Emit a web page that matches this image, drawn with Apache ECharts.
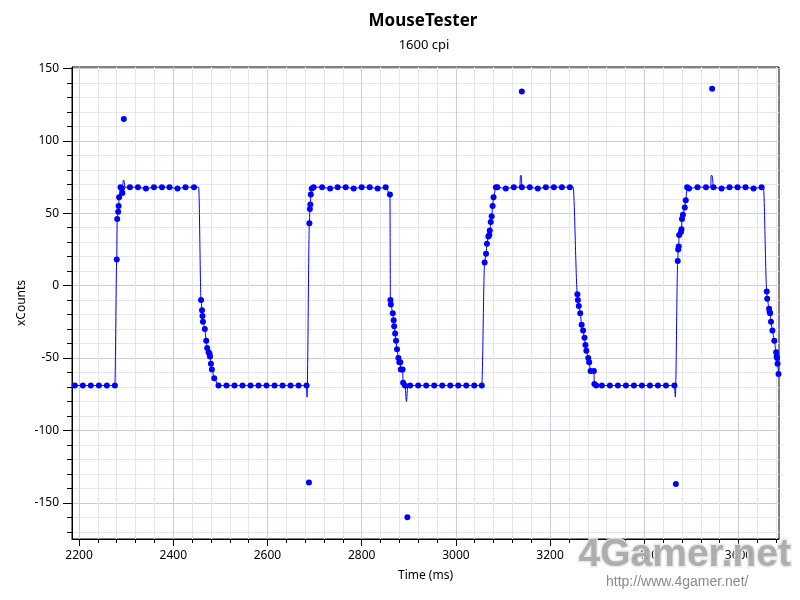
<!DOCTYPE html>
<html>
<head>
<meta charset="utf-8">
<script src="https://cdn.jsdelivr.net/npm/echarts@6/dist/echarts.min.js"></script>
<style>html,body{margin:0;padding:0;background:#fff}#c{width:800px;height:600px}</style>
</head>
<body>
<div id="c"></div>
<script>
// ---- sampled mouse reports (time in ms, xCounts) ----
const sampleTimes = [
  2191,2208,2225,2242,2259,2276,
  2280,2281,2283,2284,2285,2288,2291,2292,
  2308,2325,2342,2359,2376,2392,2409,2426,2444,
  2459,2461,2462,2463,2467,2470,2472,2475,2477,2478,2480,2482,2487,2496,
  2513,2530,2547,2564,2581,2598,2615,2632,2649,2666,2683,
  2689,2690,2691,2692,2694,2698,
  2716,2733,2749,2766,2783,2800,2817,2834,2851,
  2860,2861,2862,2866,2868,2869,2871,2873,2875,2878,2880,2882,2883,2887,2888,2892,
  2903,2920,2937,2954,2971,2988,3005,3022,3039,3055,
  3061,3064,3066,3069,3071,3072,3074,3076,3078,3080,3085,3088,
  3106,3123,3140,3157,3174,3191,3208,3225,3242,
  3258,3259,3261,3264,3267,3270,3273,3275,3277,3281,3283,3286,3293,3294,3298,
  3310,3327,3344,3361,3378,3395,3412,3429,3446,3464,
  3471,3472,3473,3474,3478,3479,3480,3482,3486,3488,3491,3495,
  3513,3531,3547,3564,3581,3598,3615,3632,3649,
  3660,3661,3665,3666,3667,3669,3672,3676,3680,3681,3682,3683,3685
];
const sampleCounts = [
  -69,-69,-69,-69,-69,-69,
  18,46,51,55,61,68,67,64,
  68,68,67,68,68,68,67,68,68,
  -10,-17,-21,-25,-30,-38,-43,-46,-47,-49,-54,-58,-64,-69,
  -69,-69,-69,-69,-69,-69,-69,-69,-69,-69,-69,
  43,53,56,63,67,68,
  68,67,68,68,67,68,68,67,68,
  63,-10,-13,-19,-24,-28,-33,-38,-44,-50,-53,-53,-58,-58,-67,-69,
  -69,-69,-69,-69,-69,-69,-69,-69,-69,-69,
  16,22,29,34,35,38,44,48,55,61,68,68,
  67,68,68,68,67,68,68,68,68,
  -6,-10,-14,-19,-27,-31,-36,-41,-45,-50,-53,-59,-59,-68,-69,
  -69,-69,-69,-69,-69,-69,-69,-69,-69,-69,
  17,25,27,35,37,39,46,49,54,59,68,67,
  68,68,68,67,68,68,68,67,68,
  -4,-9,-16,-18,-19,-25,-31,-38,-46,-49,-50,-54,-61
];
// ---- outlier reports (drawn as dots, not joined by the curve) ----
const outlierTimes  = [2295, 2688, 2897, 3140, 3467, 3544];
const outlierCounts = [115, -136, -160, 134, -137, 136];
// ---- extra points where the fitted curve bends / overshoots ----
const curveTimes  = [2293, 2294, 2296, 2297, 2454, 2684, 2895, 2898, 3136, 3137, 3139, 3249, 3466, 3541, 3542, 3544, 3653];
const curveCounts = [70, 73, 72, 68, 68, -77, -80, -69, 68, 76, 76, 68, -77, 68, 76, 76, 68];
// ---- axis ticks ----
const xMajorTicks = [2200, 2400, 2600, 2800, 3000, 3200, 3400, 3600];
const yMajorTicks = [-150, -100, -50, 0, 50, 100, 150];
const xMinorStep = 40, yMinorStep = 10;
const xRange = [2185, 3686], yRange = [-175, 151];

const xMinorTicks = [], yMinorTicks = [];
for (let v = Math.ceil(xRange[0] / xMinorStep) * xMinorStep; v <= xRange[1]; v += xMinorStep) xMinorTicks.push(v);
for (let v = Math.ceil(yRange[0] / yMinorStep) * yMinorStep; v <= yRange[1]; v += yMinorStep) yMinorTicks.push(v);

const samples = sampleTimes.map((t, i) => [t, sampleCounts[i]]);
const outliers = outlierTimes.map((t, i) => [t, outlierCounts[i]]);
const curve = samples.concat(curveTimes.map((t, i) => [t, curveCounts[i]]))
  .map((p, i) => [p[0], p[1], i])
  .sort((a, b) => a[0] - b[0] || a[2] - b[2])
  .map(p => [p[0], p[1]]);

const FONT = '"Noto Sans", "Open Sans", sans-serif';
const BLUE = '#0000ff';
const MINOR_GRID = '#e6e6f3';
const MAJOR_GRID = '#cacae6';
const plain = v => String(v);

const chart = echarts.init(document.getElementById('c'), null, { renderer: 'canvas' });
chart.setOption({
  animation: false,
  backgroundColor: '#fff',
  title: [
    { text: 'MouseTester', left: 418, top: 8, textAlign: 'center',
      textStyle: { fontFamily: FONT, fontSize: 17, fontWeight: 'bold', color: '#000' } },
    { text: '1600 cpi', left: 419, top: 34, textAlign: 'center',
      textStyle: { fontFamily: FONT, fontSize: 13, fontWeight: 'normal', color: '#000' } }
  ],
  grid: { left: 72, right: 21, top: 67, bottom: 61, show: true, borderColor: '#000', borderWidth: 1, backgroundColor: 'transparent' },
  xAxis: [
    { type: 'value', min: xRange[0], max: xRange[1], position: 'bottom',
      axisLine: { show: true, onZero: false, lineStyle: { color: '#000', width: 1 } },
      axisTick: { show: true, customValues: xMinorTicks, length: 4, lineStyle: { color: '#000' } },
      axisLabel: { show: false },
      splitLine: { show: true, lineStyle: { color: MINOR_GRID, width: 1 } } },
    { type: 'value', min: xRange[0], max: xRange[1], position: 'bottom',
      axisLine: { show: false, onZero: false },
      axisTick: { show: true, customValues: xMajorTicks, length: 7, lineStyle: { color: '#000' } },
      axisLabel: { show: true, customValues: xMajorTicks, formatter: plain, margin: 11, fontFamily: FONT, fontSize: 12, color: '#000' },
      splitLine: { show: true, lineStyle: { color: MAJOR_GRID, width: 1 } },
      name: 'Time (ms)', nameLocation: 'middle', nameGap: 31, nameMoveOverlap: false,
      nameTextStyle: { fontFamily: FONT, fontSize: 12, color: '#000' } }
  ],
  yAxis: [
    { type: 'value', min: yRange[0], max: yRange[1], position: 'left',
      axisLine: { show: true, onZero: false, lineStyle: { color: '#000', width: 1 } },
      axisTick: { show: true, customValues: yMinorTicks, length: 5, lineStyle: { color: '#000' } },
      axisLabel: { show: false },
      splitLine: { show: true, lineStyle: { color: MINOR_GRID, width: 1 } } },
    { type: 'value', min: yRange[0], max: yRange[1], position: 'left',
      axisLine: { show: false, onZero: false },
      axisTick: { show: true, customValues: yMajorTicks, length: 9, lineStyle: { color: '#000' } },
      axisLabel: { show: true, customValues: yMajorTicks, formatter: plain, margin: 13, fontFamily: FONT, fontSize: 12, color: '#000' },
      splitLine: { show: true, lineStyle: { color: MAJOR_GRID, width: 1 } },
      name: 'xCounts', nameLocation: 'middle', nameGap: 44, nameRotate: 90, nameMoveOverlap: false,
      nameTextStyle: { fontFamily: FONT, fontSize: 12, color: '#000' } }
  ],
  series: [
    { type: 'line', xAxisIndex: 0, yAxisIndex: 0, data: curve, showSymbol: false,
      smooth: 0.3, smoothMonotone: 'x',
      lineStyle: { color: BLUE, width: 1 }, z: 3 },
    { type: 'scatter', xAxisIndex: 0, yAxisIndex: 0, data: samples.concat(outliers),
      symbol: 'circle', symbolSize: 6, itemStyle: { color: BLUE, opacity: 1 }, z: 4 }
  ],
  graphic: [
    { type: 'text', left: 577, top: 534, z: 100, silent: true,
      style: { text: '4Gamer.net', font: 'bold 39px "Liberation Sans", Arial, sans-serif',
               fill: '#a6a6a6', stroke: '#e8e8e8', lineWidth: 3, opacity: 0.9 } },
    { type: 'text', left: 606, top: 575, z: 100, silent: true,
      style: { text: 'http://www.4gamer.net/', font: '14px "Liberation Sans", Arial, sans-serif',
               fill: '#8a8a8a' } }
  ]
});
</script>
</body>
</html>
